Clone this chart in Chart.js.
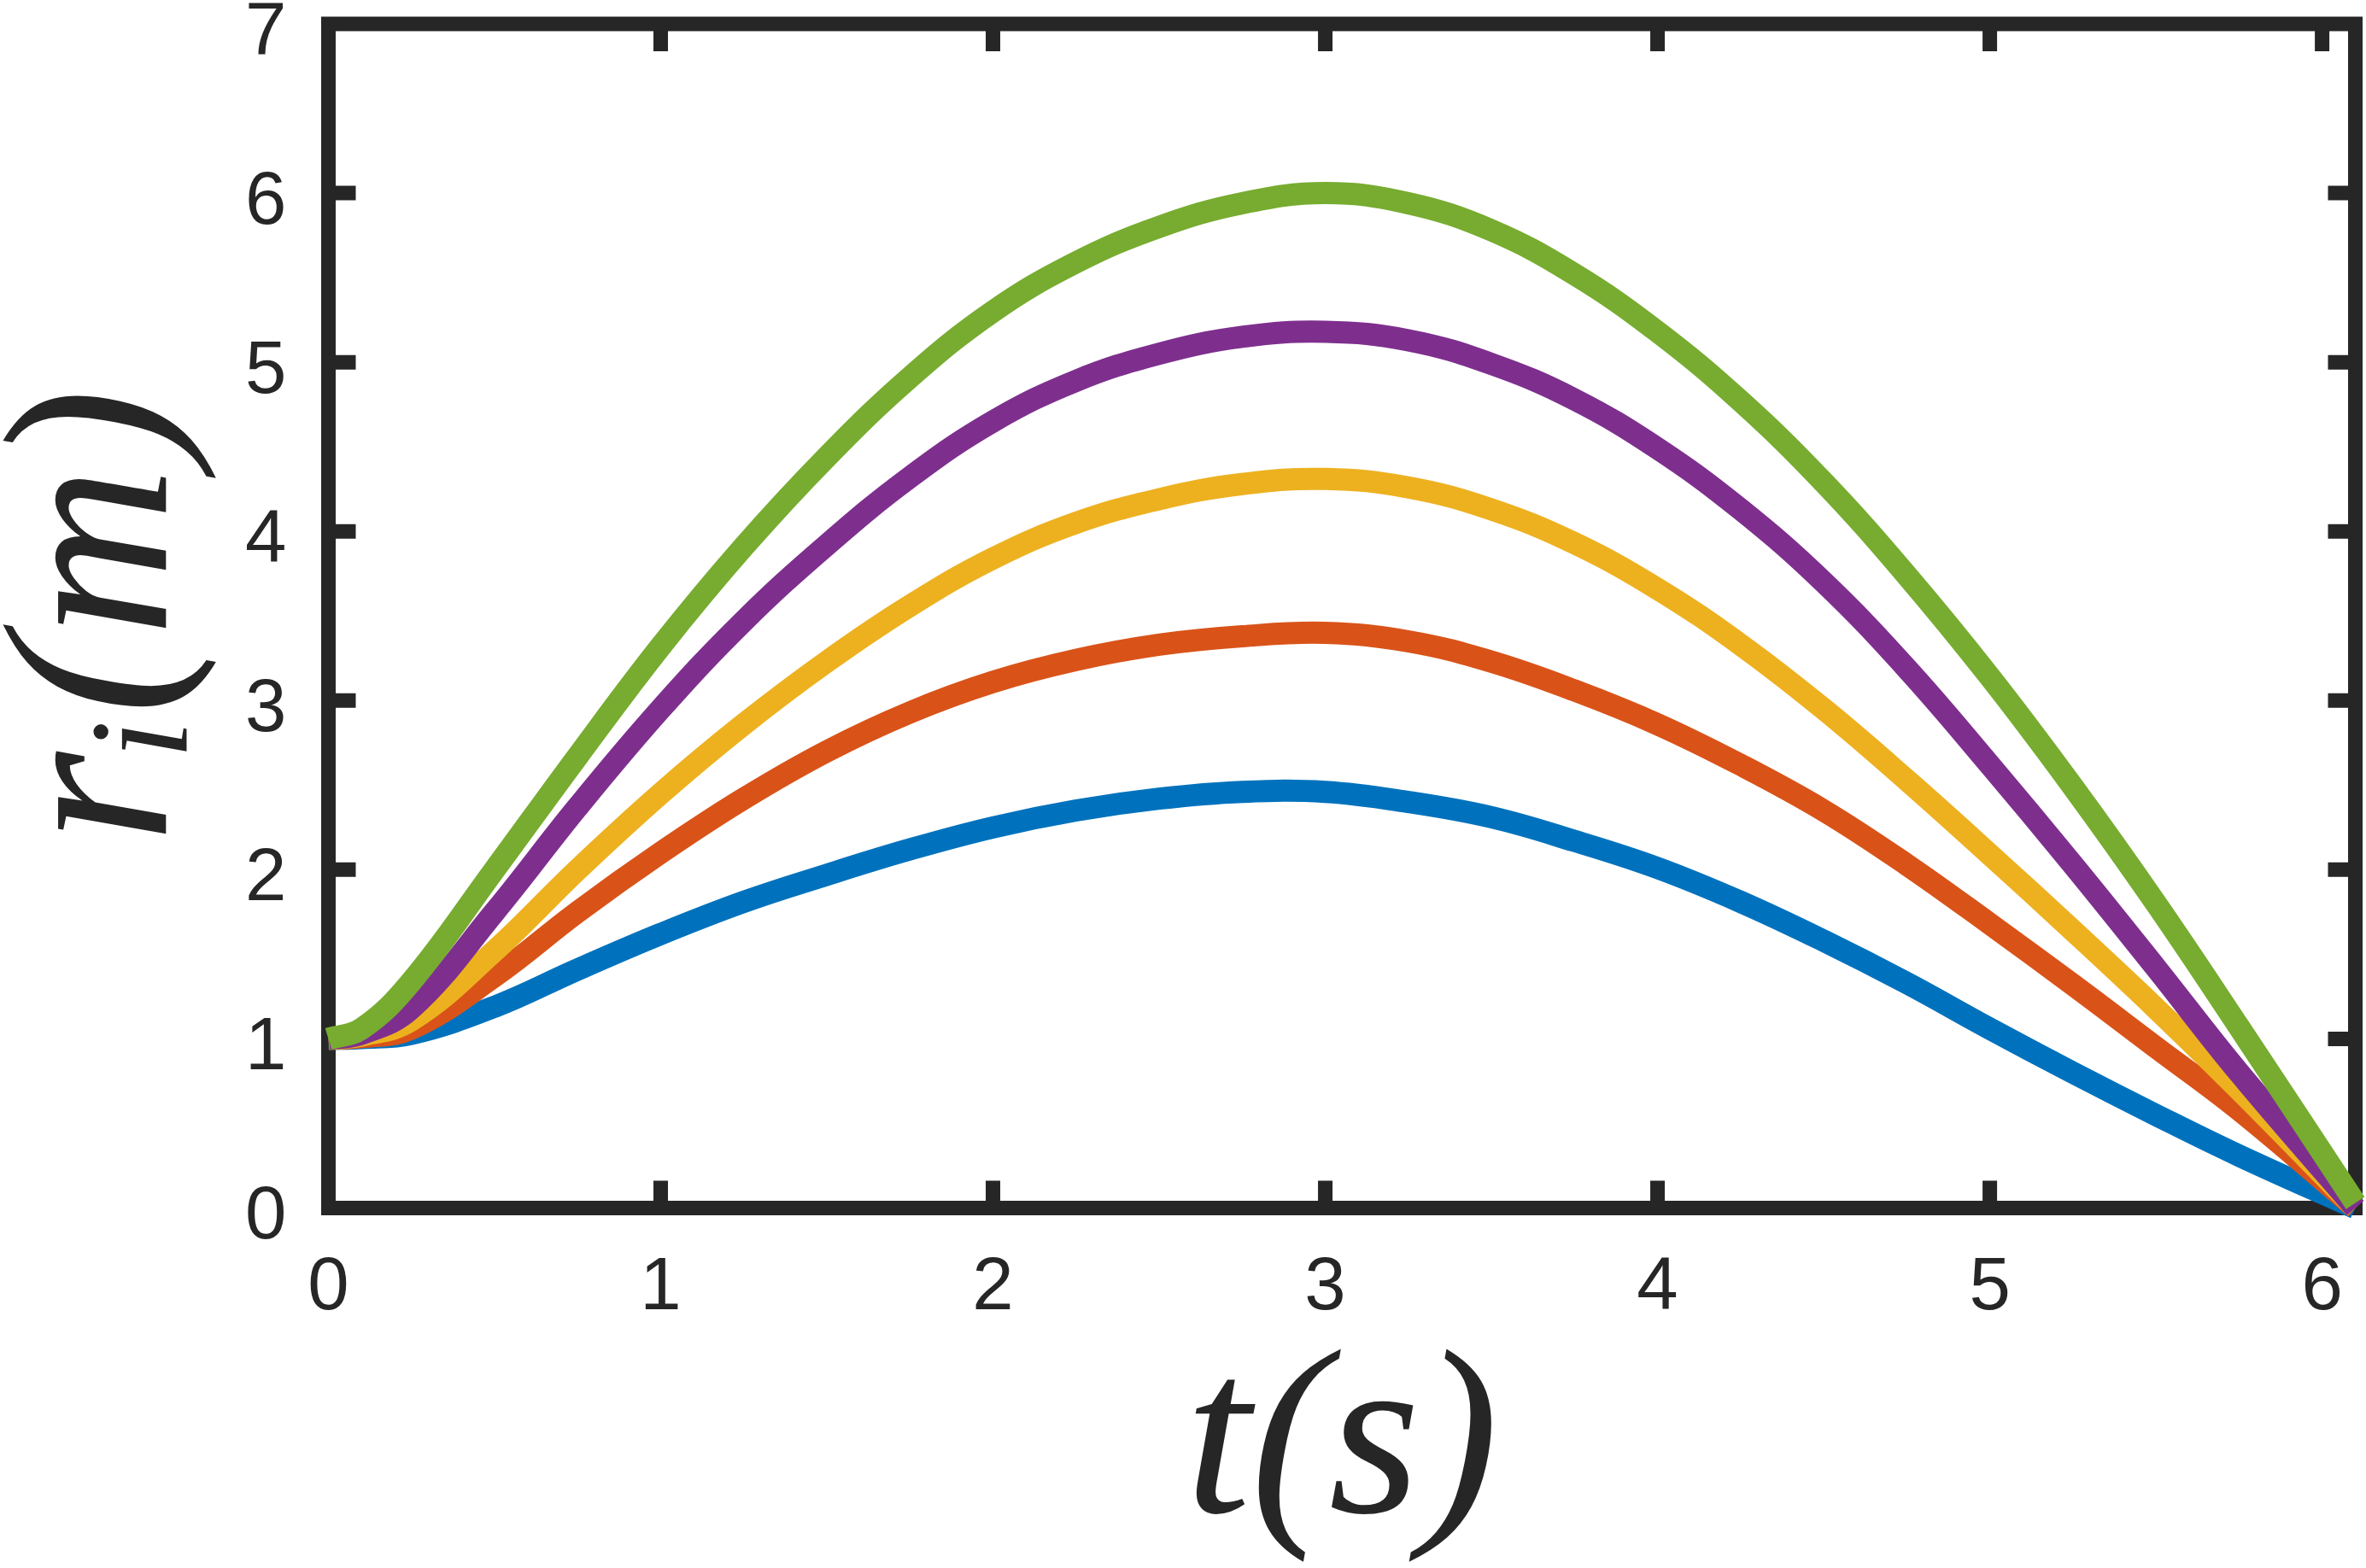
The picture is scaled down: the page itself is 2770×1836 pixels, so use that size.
<!DOCTYPE html>
<html>
<head>
<meta charset="utf-8">
<script src="https://cdn.jsdelivr.net/npm/chart.js@4.4.9/dist/chart.umd.min.js"></script>
<style>
  html, body { margin: 0; padding: 0; background: #fff; }
  canvas { display: block; }
</style>
</head>
<body>
<canvas id="myChart" width="2770" height="1836"></canvas>
<script>
// time samples (s) and radius of each curve (m)
const timeSec = [0, 0.1, 0.25, 0.5, 0.75, 1, 1.25, 1.5, 1.75, 2, 2.25, 2.5, 2.75, 3, 3.25, 3.5, 3.75, 4, 4.25, 4.5, 4.75, 5, 5.25, 5.5, 5.75, 6.1];
const rBlue   = [1, 1.005, 1.03, 1.19, 1.41, 1.62, 1.81, 1.97, 2.12, 2.25, 2.35, 2.42, 2.46, 2.46, 2.40, 2.31, 2.17, 2.01, 1.81, 1.58, 1.33, 1.06, 0.80, 0.55, 0.31, 0];
const rOrange = [1, 1.01, 1.06, 1.37, 1.75, 2.10, 2.42, 2.70, 2.93, 3.11, 3.24, 3.33, 3.38, 3.40, 3.35, 3.23, 3.06, 2.86, 2.62, 2.35, 2.03, 1.68, 1.32, 0.95, 0.58, 0];
const rYellow = [1, 1.02, 1.11, 1.52, 2.00, 2.45, 2.86, 3.23, 3.56, 3.84, 4.05, 4.19, 4.28, 4.31, 4.26, 4.13, 3.93, 3.66, 3.33, 2.95, 2.53, 2.09, 1.64, 1.18, 0.70, 0];
const rPurple = [1, 1.03, 1.18, 1.75, 2.37, 2.95, 3.47, 3.92, 4.32, 4.65, 4.89, 5.05, 5.15, 5.18, 5.13, 4.99, 4.78, 4.49, 4.13, 3.70, 3.19, 2.62, 2.03, 1.42, 0.80, 0];
const rGreen  = [1, 1.06, 1.34, 2.00, 2.67, 3.32, 3.91, 4.44, 4.91, 5.30, 5.59, 5.80, 5.94, 6.00, 5.94, 5.78, 5.52, 5.18, 4.77, 4.29, 3.74, 3.14, 2.49, 1.80, 1.07, 0.03];

const xTicks = [0, 1, 2, 3, 4, 5, 6];
const yTicks = [0, 1, 2, 3, 4, 5, 6, 7];

const axisColor = "#262626";

function toPoints(values) {
  return timeSec.map((t, i) => ({ x: t, y: values[i] }));
}

function makeSet(label, values, color, order) {
  return {
    label: label,
    data: toPoints(values),
    borderColor: color,
    backgroundColor: color,
    borderWidth: 26,
    pointRadius: 0,
    tension: 0.4,
    order: order,
    clip: 20,
  };
}

// box round the plot plus inward tick marks, like the matlab axes
const framePlugin = {
  id: "frame",
  beforeDatasetsDraw(chart) {
    const { ctx, chartArea } = chart;
    const { left, right, top, bottom } = chartArea;
    const xs = chart.scales.x;
    const ys = chart.scales.y;
    const len = 32;
    ctx.save();
    ctx.strokeStyle = axisColor;
    ctx.lineWidth = 17;
    ctx.lineCap = "butt";
    ctx.lineJoin = "miter";
    ctx.strokeRect(left, top, right - left, bottom - top);
    ctx.beginPath();
    xTicks.forEach((v) => {
      const px = xs.getPixelForValue(v);
      if (px - left < 5 || right - px < 5) return;
      ctx.moveTo(px, bottom);
      ctx.lineTo(px, bottom - len);
      ctx.moveTo(px, top);
      ctx.lineTo(px, top + len);
    });
    yTicks.forEach((v) => {
      const py = ys.getPixelForValue(v);
      if (bottom - py < 5 || py - top < 5) return;
      ctx.moveTo(left, py);
      ctx.lineTo(left + len, py);
      ctx.moveTo(right, py);
      ctx.lineTo(right - len, py);
    });
    ctx.stroke();
    ctx.restore();
  },
};

const $canvas = document.getElementById("myChart");

const myChart = new Chart($canvas, {
  type: "line",
  data: {
    datasets: [
      makeSet("r1", rBlue, "#0072BD", 5),
      makeSet("r2", rOrange, "#D95319", 4),
      makeSet("r3", rYellow, "#EDB120", 3),
      makeSet("r4", rPurple, "#7E2F8E", 2),
      makeSet("r5", rGreen, "#77AC30", 1),
    ],
  },
  options: {
    responsive: false,
    animation: false,
    devicePixelRatio: 1,
    layout: {
      padding: { top: 28, right: 12.5, left: 0, bottom: 0 },
    },
    plugins: {
      legend: { display: false },
      tooltip: { enabled: false },
    },
    scales: {
      x: {
        type: "linear",
        min: 0,
        max: 6.1,
        grid: { display: false, drawTicks: false },
        border: { display: false },
        ticks: {
          stepSize: 1,
          includeBounds: false,
          autoSkip: false,
          maxRotation: 0,
          padding: 42,
          color: axisColor,
          font: { family: "'Liberation Sans', Arial, sans-serif", size: 87 },
        },
        title: {
          display: true,
          text: "t(s)",
          color: axisColor,
          padding: { top: 0, bottom: 28 },
          font: { family: "'Liberation Serif', 'Times New Roman', serif", size: 275, style: "italic", lineHeight: 0.8 },
        },
        afterFit(scale) {
          scale.height = 1836 - 1414.5;
          scale.paddingLeft = 0;
          scale.paddingRight = 0;
        },
      },
      y: {
        type: "linear",
        min: 0,
        max: 7,
        grid: { display: false, drawTicks: false },
        border: { display: false },
        ticks: {
          stepSize: 1,
          includeBounds: false,
          padding: 49,
          labelOffset: 12,
          color: axisColor,
          font: { family: "'Liberation Sans', Arial, sans-serif", size: 87 },
        },
        title: {
          display: true,
          text: "r\u1d62(m)",
          color: axisColor,
          padding: { top: 12, bottom: 0 },
          font: { family: "'Liberation Serif', 'Times New Roman', serif", size: 275, style: "italic", lineHeight: 0.8 },
        },
        afterFit(scale) {
          scale.width = 384.5;
          scale.paddingTop = 0;
          scale.paddingBottom = 0;
        },
      },
    },
  },
  plugins: [framePlugin],
});
</script>
</body>
</html>
